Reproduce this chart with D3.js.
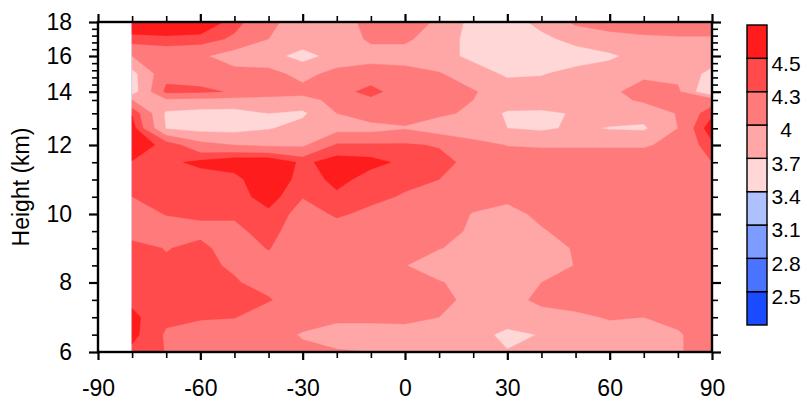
<!DOCTYPE html>
<html>
<head>
<meta charset="utf-8">
<script src="https://cdn.jsdelivr.net/npm/d3@7"></script>
<style>
  body { margin: 0; background: #ffffff; }
  svg { display: block; }
  text { font-family: "Liberation Sans", Arial, Helvetica, sans-serif; fill: #000; }
</style>
</head>
<body>
<svg id="chart" width="807" height="401"></svg>
<script>
// Grid coordinates: latitude columns and height rows (km)
const lats = [-80, -70, -60, -50, -40, -30, -20, -10, 0, 10, 20, 30, 40, 50, 60, 70, 80, 90];
const heights = [6, 6.5, 7, 7.5, 8, 8.5, 9, 9.5, 10, 10.5, 11, 11.5, 12, 12.5, 13, 13.5, 14, 15, 16, 17, 18];

// Field values, one row per height level (columns follow lats)
const z06_0 = [4.45, 4.29, 4.18, 4.15, 4.10, 4.05, 4.02, 4.00, 3.98, 3.92, 3.85, 3.72, 3.88, 3.90, 3.92, 3.92, 3.98, 4.10];
const z06_5 = [4.56, 4.27, 4.15, 4.12, 4.10, 3.98, 3.90, 3.90, 3.92, 3.90, 3.85, 3.60, 3.72, 3.85, 3.90, 3.88, 3.98, 4.10];
const z07_0 = [4.55, 4.35, 4.33, 4.31, 4.15, 4.10, 4.05, 4.05, 4.05, 4.00, 3.90, 3.90, 3.92, 3.95, 4.02, 4.00, 4.05, 4.15];
const z07_5 = [4.45, 4.40, 4.40, 4.38, 4.32, 4.15, 4.12, 4.12, 4.10, 4.05, 3.95, 3.92, 4.05, 4.10, 4.12, 4.12, 4.12, 4.15];
const z08_0 = [4.40, 4.38, 4.40, 4.32, 4.22, 4.12, 4.12, 4.12, 4.10, 4.02, 3.90, 3.88, 4.00, 4.10, 4.12, 4.12, 4.12, 4.15];
const z08_5 = [4.35, 4.33, 4.35, 4.27, 4.22, 4.15, 4.15, 4.12, 4.01, 3.85, 3.82, 3.80, 3.85, 4.01, 4.10, 4.12, 4.12, 4.15];
const z09_0 = [4.38, 4.29, 4.35, 4.20, 4.31, 4.15, 4.15, 4.15, 4.12, 4.01, 3.92, 3.85, 3.90, 4.02, 4.10, 4.12, 4.12, 4.15];
const z09_5 = [4.20, 4.20, 4.25, 4.25, 4.38, 4.15, 4.20, 4.20, 4.15, 4.12, 3.95, 3.90, 3.98, 4.08, 4.12, 4.12, 4.12, 4.15];
const z10_0 = [4.20, 4.31, 4.33, 4.33, 4.45, 4.20, 4.33, 4.25, 4.15, 4.10, 3.99, 3.93, 4.05, 4.10, 4.12, 4.12, 4.12, 4.15];
const z10_5 = [4.30, 4.35, 4.38, 4.40, 4.60, 4.31, 4.45, 4.35, 4.28, 4.20, 4.08, 4.05, 4.10, 4.12, 4.15, 4.15, 4.15, 4.20];
const z11_0 = [4.40, 4.40, 4.40, 4.39, 4.80, 4.35, 4.58, 4.40, 4.35, 4.30, 4.15, 4.10, 4.10, 4.12, 4.12, 4.12, 4.15, 4.20];
const z11_5 = [4.49, 4.45, 4.55, 4.68, 4.70, 4.45, 4.60, 4.57, 4.45, 4.38, 4.22, 4.12, 4.10, 4.10, 4.10, 4.10, 4.12, 4.30];
const z12_0 = [4.60, 4.45, 4.10, 4.00, 3.95, 3.95, 4.33, 4.33, 4.33, 4.28, 4.10, 3.99, 3.98, 3.98, 3.98, 3.98, 4.05, 4.45];
const z12_5 = [4.60, 3.68, 3.60, 3.60, 3.68, 3.80, 3.90, 3.90, 3.98, 3.85, 3.80, 3.70, 3.65, 3.75, 3.68, 3.66, 4.00, 4.65];
const z13_0 = [4.48, 3.65, 3.60, 3.60, 3.70, 3.65, 4.00, 4.15, 4.10, 4.05, 3.95, 3.65, 3.65, 3.72, 3.85, 3.80, 4.02, 4.45];
const z13_5 = [4.00, 3.95, 3.92, 3.90, 3.90, 3.88, 4.10, 4.25, 4.10, 4.05, 4.00, 3.90, 3.85, 3.85, 3.90, 4.05, 4.10, 4.15];
const z14_0 = [3.55, 4.36, 4.34, 4.28, 4.15, 4.10, 4.20, 4.38, 4.15, 4.05, 4.02, 3.87, 3.85, 3.88, 3.95, 4.10, 4.05, 3.38];
const z15_0 = [3.60, 4.22, 4.20, 4.10, 4.10, 3.90, 4.10, 4.15, 4.10, 4.02, 3.85, 3.65, 3.68, 3.80, 3.85, 3.95, 3.92, 3.60];
const z16_0 = [4.00, 4.10, 4.05, 3.85, 3.80, 3.60, 3.80, 3.88, 3.88, 3.82, 3.62, 3.50, 3.50, 3.55, 3.65, 3.82, 3.90, 3.88];
const z17_0 = [4.42, 4.44, 4.42, 4.25, 4.00, 3.85, 3.82, 4.05, 4.05, 3.85, 3.60, 3.50, 3.62, 3.80, 3.92, 3.95, 3.98, 3.98];
const z18_0 = [4.70, 4.75, 4.70, 4.40, 4.05, 3.90, 3.85, 4.10, 4.15, 3.95, 3.60, 3.55, 3.80, 4.05, 4.10, 4.15, 4.10, 4.10];

// Contour levels, their labels and the fill colour of each band (lowest first)
const levels = [2.5, 2.8, 3.1, 3.4, 3.7, 4.0, 4.3, 4.5];
const levelLabels = ["2.5", "2.8", "3.1", "3.4", "3.7", "4", "4.3", "4.5"];
const bandColors = ["#1a4bff", "#4a74ff", "#7c9cff", "#afc0ff", "#ffd7d7",
                    "#ffa7a7", "#ff7b7b", "#ff4b4b", "#ff1c1c"];

// Axis ticks
const xTickValues = [-90, -60, -30, 0, 30, 60, 90];
const xMinorTicks = [-80, -70, -50, -40, -20, -10, 10, 20, 40, 50, 70, 80];
const yTickValues = [6, 8, 10, 12, 14, 16, 18];
const yMinorTicks = [6.5, 7, 7.5, 8.5, 9, 9.5, 10.5, 11, 11.5, 12.5, 13, 13.5,
                     14.4, 14.8, 15.2, 15.6, 16.4, 16.8, 17.2, 17.6];

const rows = [z06_0, z06_5, z07_0, z07_5, z08_0, z08_5, z09_0, z09_5, z10_0, z10_5,
              z11_0, z11_5, z12_0, z12_5, z13_0, z13_5, z14_0, z15_0, z16_0, z17_0, z18_0];

const svg = d3.select("#chart");
const nx = lats.length, ny = heights.length;
const values = rows.flat();

// Plot scales; the height axis is stretched below 12 km
const x = d3.scaleLinear().domain([-90, 90]).range([98, 712]);
const y = d3.scaleLinear()
  .domain([6, 8, 10, 12, 12.5, 13, 13.5, 14, 16, 18])
  .range([352, 282.5, 214, 145, 128.3, 113.3, 100, 91.7, 56, 22]);

// Grid index -> data coordinates
const latAt = d3.scaleLinear().domain(d3.range(nx)).range(lats).clamp(true);
const hAt = d3.scaleLinear().domain(d3.range(ny)).range(heights).clamp(true);

const proj = d3.geoTransform({
  point(px, py) { this.stream.point(x(latAt(px - 0.5)), y(hAt(py - 0.5))); }
});
const path = d3.geoPath(proj);

const contours = d3.contours().size([nx, ny]).thresholds(levels)(values);

const field = svg.append("g");
// lowest band covers the whole data area
field.append("rect")
  .attr("x", x(lats[0])).attr("y", y(heights[ny - 1]))
  .attr("width", x(lats[nx - 1]) - x(lats[0]))
  .attr("height", y(heights[0]) - y(heights[ny - 1]))
  .attr("fill", bandColors[0]);

field.selectAll("path.band")
  .data(contours)
  .join("path")
  .attr("class", "band")
  .attr("d", path)
  .attr("fill", (d, i) => bandColors[i + 1])
  .attr("stroke", (d, i) => bandColors[i + 1])
  .attr("stroke-width", 0.4);

// Axes
const fontSize = 23;
const plain = d => String(d);   // hyphen-minus for negative labels
function styleAxis(g, width) {
  g.select(".domain").remove();
  g.selectAll(".tick line").attr("stroke", "#000").attr("stroke-width", width);
  g.selectAll(".tick text").attr("font-size", fontSize).attr("font-family", null);
}

svg.append("g").attr("transform", "translate(0,352)")
  .call(d3.axisBottom(x).tickValues(xTickValues).tickSize(8).tickPadding(20).tickFormat(plain))
  .call(g => styleAxis(g, 2.2));
svg.append("g").attr("transform", "translate(0,352)")
  .call(d3.axisBottom(x).tickValues(xMinorTicks).tickSize(6).tickFormat(""))
  .call(g => styleAxis(g, 1.6));
svg.append("g").attr("transform", "translate(0,22)")
  .call(d3.axisTop(x).tickValues(xTickValues).tickSize(8).tickFormat(""))
  .call(g => styleAxis(g, 2.2));
svg.append("g").attr("transform", "translate(0,22)")
  .call(d3.axisTop(x).tickValues(xMinorTicks).tickSize(6).tickFormat(""))
  .call(g => styleAxis(g, 1.6));

svg.append("g").attr("transform", "translate(98,0)")
  .call(d3.axisLeft(y).tickValues(yTickValues).tickSize(9).tickPadding(17).tickFormat(plain))
  .call(g => styleAxis(g, 2.2));
svg.append("g").attr("transform", "translate(98,0)")
  .call(d3.axisLeft(y).tickValues(yMinorTicks).tickSize(6).tickFormat(""))
  .call(g => styleAxis(g, 1.6));
svg.append("g").attr("transform", "translate(712,0)")
  .call(d3.axisRight(y).tickValues(yTickValues).tickSize(9).tickFormat(""))
  .call(g => styleAxis(g, 2.2));
svg.append("g").attr("transform", "translate(712,0)")
  .call(d3.axisRight(y).tickValues(yMinorTicks).tickSize(6).tickFormat(""))
  .call(g => styleAxis(g, 1.6));

// Frame
svg.append("rect")
  .attr("x", x(-90)).attr("y", y(18))
  .attr("width", x(90) - x(-90)).attr("height", y(6) - y(18))
  .attr("fill", "none").attr("stroke", "#000").attr("stroke-width", 2.4);

// Axis title
svg.append("text")
  .attr("transform", "translate(29,187) rotate(-90)")
  .attr("text-anchor", "middle")
  .attr("font-size", fontSize)
  .text("Height (km)");

// Colour bar
const cbX = 747, cbW = 20;
const cb = d3.scaleLinear().domain([0, bandColors.length]).range([325, 25]);
const bar = svg.append("g");
bar.selectAll("rect")
  .data(bandColors)
  .join("rect")
  .attr("x", cbX).attr("width", cbW)
  .attr("y", (d, i) => cb(i + 1))
  .attr("height", (d, i) => cb(i) - cb(i + 1))
  .attr("fill", d => d)
  .attr("stroke", "#000").attr("stroke-width", 1.4);
bar.selectAll("text")
  .data(levelLabels)
  .join("text")
  .attr("x", 786)
  .attr("y", (d, i) => cb(i + 1) + 5)
  .attr("dy", "0.35em")
  .attr("text-anchor", "middle")
  .attr("font-size", 21)
  .text(d => d);
</script>
</body>
</html>
